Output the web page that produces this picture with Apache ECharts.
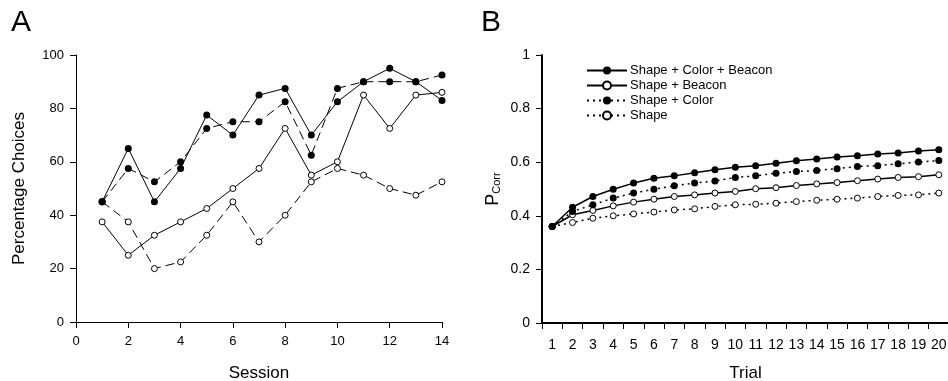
<!DOCTYPE html>
<html><head><meta charset="utf-8">
<script src="https://cdn.jsdelivr.net/npm/echarts@6/dist/echarts.min.js"></script>
<style>html,body{margin:0;padding:0;background:#fff}#c{width:948px;height:381px}</style>
</head><body><div id="c"></div>
<script>
// Panel A data
const sessions = [1,2,3,4,5,6,7,8,9,10,11,12,13,14];
const aFilledSolid  = [45,65,45,57.5,77.5,70,85,87.5,70,82.5,90,95,90,83];
const aFilledDashed = [45,57.5,52.5,60,72.5,75,75,82.5,62.5,87.5,90,90,90,92.5];
const aOpenSolid    = [37.5,25,32.5,37.5,42.5,50,57.5,72.5,55,60,85,72.5,85,86];
const aOpenDashed   = [45,37.5,20,22.5,32.5,45,30,40,52.5,57.5,55,50,47.5,52.5];
// Panel B data
const trials = ['1','2','3','4','5','6','7','8','9','10','11','12','13','14','15','16','17','18','19','20'];
const bNames = ['Shape + Color + Beacon','Shape + Beacon','Shape + Color','Shape'];
const bSCB = [0.36,0.432,0.472,0.499,0.522,0.540,0.549,0.561,0.572,0.581,0.587,0.596,0.605,0.612,0.619,0.624,0.631,0.634,0.642,0.646];
const bSB  = [0.36,0.404,0.420,0.437,0.451,0.462,0.472,0.478,0.485,0.491,0.501,0.505,0.513,0.519,0.524,0.531,0.537,0.543,0.546,0.553];
const bSC  = [0.36,0.416,0.441,0.466,0.485,0.499,0.512,0.522,0.530,0.543,0.549,0.559,0.565,0.569,0.576,0.584,0.587,0.594,0.601,0.606];
const bS   = [0.36,0.375,0.391,0.400,0.407,0.414,0.422,0.426,0.435,0.441,0.443,0.447,0.453,0.458,0.462,0.466,0.472,0.476,0.478,0.485];

const FONT = 'Liberation Sans, Arial, sans-serif';
const K = '#000';
const filled = {color: K};
const open = {color: '#fff', borderColor: K, borderWidth: 1};
function pairs(xs, ys){ return xs.map((x,i)=>[x, ys[i]]); }

const chart = echarts.init(document.getElementById('c'), null, {renderer:'canvas'});
chart.setOption({
  animation: false,
  backgroundColor: '#fff',
  textStyle: {fontFamily: FONT, color: K},
  title: [
    {text: 'A', left: 11, top: 8, padding: 0, textStyle: {fontSize: 30, fontWeight: 'normal', color: K, fontFamily: FONT}},
    {text: 'B', left: 481, top: 8, padding: 0, textStyle: {fontSize: 30, fontWeight: 'normal', color: K, fontFamily: FONT}}
  ],
  legend: {
    data: bNames, orient: 'vertical', left: 586, top: 64, padding: 0,
    itemWidth: 40, itemHeight: 10, itemGap: 2,
    textStyle: {fontSize: 13, color: K, fontFamily: FONT, padding: [0,0,0,-2]}
  },
  grid: [
    {left: 76, top: 55, width: 366, height: 267, containLabel: false, outerBoundsMode: 'none'},
    {left: 542, top: 55, width: 407, height: 268, containLabel: false, outerBoundsMode: 'none'}
  ],
  xAxis: [
    {gridIndex: 0, type: 'value', min: 0, max: 14, interval: 2,
     axisLine: {show: true, lineStyle: {color: K, width: 1}},
     axisTick: {show: true, inside: false, length: 6, lineStyle: {color: K}},
     axisLabel: {color: K, fontSize: 13, margin: 13, fontFamily: FONT},
     splitLine: {show: false},
     name: 'Session', nameLocation: 'middle', nameGap: 43,
     nameTextStyle: {fontSize: 17, color: K, fontFamily: FONT}},
    {gridIndex: 1, type: 'category', data: trials, boundaryGap: true,
     axisLine: {show: true, lineStyle: {color: K, width: 2}},
     axisTick: {show: true, inside: false, length: 6, interval: 0, lineStyle: {color: K, width: 1}},
     axisLabel: {color: K, fontSize: 14, margin: 15, interval: 0, fontFamily: FONT},
     splitLine: {show: false},
     name: 'Trial', nameLocation: 'middle', nameGap: 42,
     nameTextStyle: {fontSize: 17, color: K, fontFamily: FONT}}
  ],
  yAxis: [
    {gridIndex: 0, type: 'value', min: 0, max: 100, interval: 20,
     axisLine: {show: true, lineStyle: {color: K, width: 1}},
     axisTick: {show: true, inside: false, length: 6, lineStyle: {color: K}},
     axisLabel: {color: K, fontSize: 13, margin: 12, fontFamily: FONT},
     splitLine: {show: false},
     name: 'Percentage Choices', nameLocation: 'middle', nameGap: 48,
     nameTextStyle: {fontSize: 17, color: K, fontFamily: FONT}},
    {gridIndex: 1, type: 'value', min: 0, max: 1, interval: 0.2,
     axisLine: {show: true, lineStyle: {color: K, width: 2}},
     axisTick: {show: true, inside: false, length: 6, lineStyle: {color: K, width: 1}},
     axisLabel: {color: K, fontSize: 14, margin: 12, fontFamily: FONT,
       formatter: v => (v === 0 ? '0' : v === 1 ? '1' : v.toFixed(1))},
     splitLine: {show: false},
     name: '{p|P}{s|Corr}', nameLocation: 'middle', nameGap: 40,
     nameTextStyle: {color: K, fontFamily: FONT,
       rich: {
         p: {fontSize: 18, lineHeight: 18, verticalAlign: 'top', color: K, fontFamily: FONT},
         s: {fontSize: 11, lineHeight: 11, verticalAlign: 'bottom', padding: [11,0,0,0], color: K, fontFamily: FONT}
       }}}
  ],
  series: [
    {type: 'line', xAxisIndex: 0, yAxisIndex: 0, data: pairs(sessions, aFilledSolid),
     symbol: 'circle', symbolSize: 7, itemStyle: filled, lineStyle: {color: K, width: 1}, z: 3},
    {type: 'line', xAxisIndex: 0, yAxisIndex: 0, data: pairs(sessions, aFilledDashed),
     symbol: 'circle', symbolSize: 7, itemStyle: filled, lineStyle: {color: K, width: 1, type: [9,5]}, z: 3},
    {type: 'line', xAxisIndex: 0, yAxisIndex: 0, data: pairs(sessions, aOpenSolid),
     symbol: 'circle', symbolSize: 6, itemStyle: open, lineStyle: {color: K, width: 1}, z: 2},
    {type: 'line', xAxisIndex: 0, yAxisIndex: 0, data: pairs(sessions, aOpenDashed),
     symbol: 'circle', symbolSize: 6, itemStyle: open, lineStyle: {color: K, width: 1, type: [9,5]}, z: 2},

    {name: bNames[0], type: 'line', xAxisIndex: 1, yAxisIndex: 1, data: bSCB,
     symbol: 'circle', symbolSize: 7, itemStyle: filled, lineStyle: {color: K, width: 1.5}, z: 4},
    {name: bNames[1], type: 'line', xAxisIndex: 1, yAxisIndex: 1, data: bSB,
     symbol: 'circle', symbolSize: 6, itemStyle: open, lineStyle: {color: K, width: 1.5}, z: 3},
    {name: bNames[2], type: 'line', xAxisIndex: 1, yAxisIndex: 1, data: bSC,
     symbol: 'circle', symbolSize: 7, itemStyle: filled, lineStyle: {color: K, width: 1.5, type: [2,4]}, z: 4},
    {name: bNames[3], type: 'line', xAxisIndex: 1, yAxisIndex: 1, data: bS,
     symbol: 'circle', symbolSize: 6, itemStyle: open, lineStyle: {color: K, width: 1.5, type: [2,4]}, z: 3}
  ]
});
</script></body></html>
